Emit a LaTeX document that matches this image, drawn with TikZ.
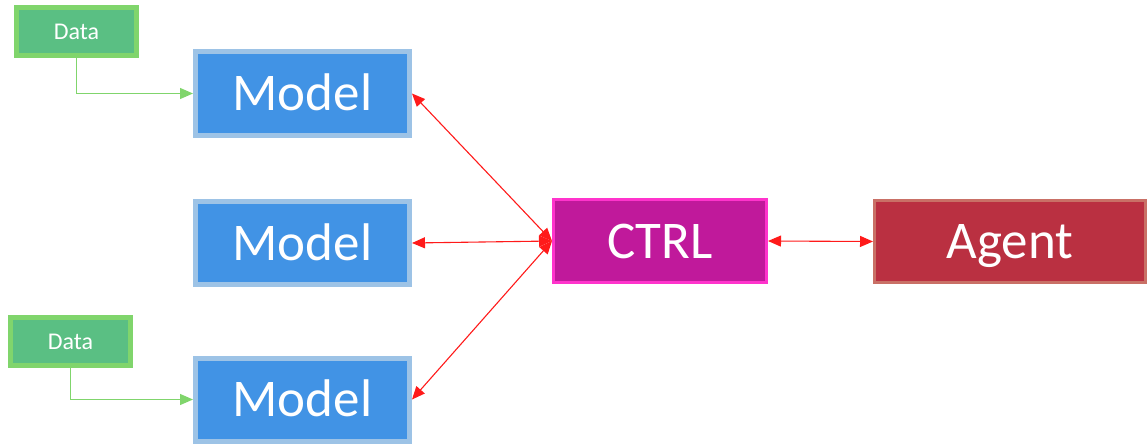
\documentclass[tikz,border=0pt]{standalone}
\usepackage{fontspec}
\setmainfont{Carlito}
\usetikzlibrary{arrows.meta}
\definecolor{datafill}{HTML}{5ABF83}
\definecolor{dataline}{HTML}{80D56C}
\definecolor{modelfill}{HTML}{4193E5}
\definecolor{modelline}{HTML}{9DC3E6}
\definecolor{ctrlfill}{HTML}{C0199B}
\definecolor{ctrlline}{HTML}{FF33CC}
\definecolor{agentfill}{HTML}{BA3041}
\definecolor{agentline}{HTML}{C97066}
\definecolor{arrowred}{HTML}{FF1A1A}
\begin{document}
\begin{tikzpicture}[x=1pt,y=-1pt,
  bigtext/.style={text=white, font=\fontsize{53}{60}\selectfont, text height=34pt, text depth=0pt},
  databox/.style={draw=dataline, fill=datafill, line width=5pt, minimum width=120pt, minimum height=48pt, inner sep=0pt, text=white, font=\fontsize{24}{27}\selectfont, text height=15.5pt, text depth=0pt},
  modelbox/.style={draw=modelline, fill=modelfill, line width=5pt, minimum width=214pt, minimum height=83pt, inner sep=0pt, bigtext},
  ctrlbox/.style={draw=ctrlline, fill=ctrlfill, line width=3pt, minimum width=213pt, minimum height=83pt, inner sep=0pt, bigtext},
  agentbox/.style={draw=agentline, fill=agentfill, line width=3pt, minimum width=271pt, minimum height=82pt, inner sep=0pt, bigtext},
  greenarrow/.style={draw=dataline, line width=1.2pt, -{Triangle[length=13pt,width=11pt]}},
  redarrow/.style={draw=arrowred, line width=1.1pt, {Triangle[length=13pt,width=11pt]}-{Triangle[length=13pt,width=11pt]}}
]
\useasboundingbox (0,0) rectangle (1147,444);
\node[databox] (data1) at (76.5,31.5) {Data};
\node[databox] (data2) at (70.5,341.5) {Data};
\node[modelbox] (model1) at (302.5,93.5) {Model};
\node[modelbox] (model2) at (302.5,243) {Model};
\node[modelbox] (model3) at (302.5,399.5) {Model};
\node[ctrlbox] (ctrl) at (660,241) {CTRL};
\node[agentbox] (agent) at (1010,241.5) {Agent};
\draw[greenarrow] (data1.south) |- (model1.west);
\draw[greenarrow] (data2.south) |- (model3.west);
\draw[redarrow] (model1.east) -- (ctrl.west);
\draw[redarrow] (model2.east) -- (ctrl.west);
\draw[redarrow] (model3.east) -- (ctrl.west);
\draw[redarrow] (ctrl.east) -- (agent.west);
\end{tikzpicture}
\end{document}
